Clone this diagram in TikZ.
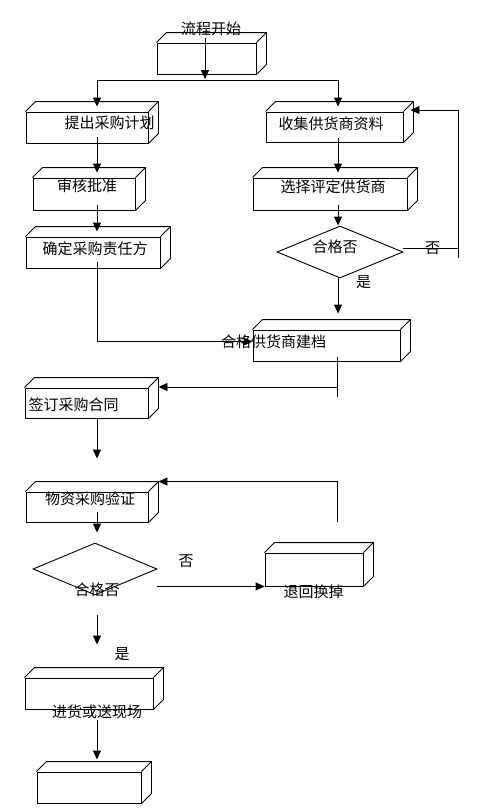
\documentclass[tikz,border=0pt]{standalone}
\usepackage{fontspec}
\setmainfont{Noto Sans CJK SC}
\usetikzlibrary{arrows.meta,calc,shapes.geometric}

\tikzset{
    box/.style={draw, line width=0.9pt, inner sep=0pt},
    decide/.style={draw, diamond, line width=0.9pt, inner sep=0pt},
    txt/.style={font=\fontsize{15}{18}\selectfont, inner sep=0pt},
    arr/.style={-{Triangle[width=8pt,length=9pt]}, line width=0.9pt}
}
\newcommand{\cuboid}[1]{
    \draw[line width=0.9pt] (#1.north west) -- ++(10,-10) -| ($(#1.south east)+(10,-10)$) -- (#1.south east);
    \draw[line width=0.9pt] (#1.north east) -- ++(10,-10);
    \coordinate (#1-t) at ($(#1.north)+(5,-5)$);
    \coordinate (#1-b) at ($(#1.north east)+(10,-10)$);
}

\begin{document}
\begin{tikzpicture}[x=1pt, y=-1pt]
            \useasboundingbox (0,0) rectangle (486,811);
            \node[box, minimum width=99pt, minimum height=31pt] (start) at (206.5,58.5) {};
            \node[box, minimum width=122pt, minimum height=31pt] (plan) at (87,127.5) {};
            \node[box, minimum width=137pt, minimum height=30pt] (collect) at (334.5,127) {};
            \node[box, minimum width=102pt, minimum height=32pt] (approve) at (84,194) {};
            \node[box, minimum width=154pt, minimum height=32pt] (select) at (330,194) {};
            \node[box, minimum width=134pt, minimum height=31pt] (resp) at (93,252.5) {};
            \node[decide, minimum width=126pt, minimum height=52pt] (check1) at (340,252) {};
            \node[box, minimum width=147pt, minimum height=31pt] (archive) at (326.5,345.5) {};
            \node[box, minimum width=123pt, minimum height=30pt] (contract) at (86.5,403) {};
            \node[box, minimum width=122pt, minimum height=30pt] (verify) at (87,507) {};
            \node[decide, minimum width=124pt, minimum height=52pt] (check2) at (95,569) {};
            \node[box, minimum width=98pt, minimum height=33pt] (back) at (314,569.5) {};
            \node[box, minimum width=128pt, minimum height=31pt] (deliver) at (89,693.5) {};
            \node[box, minimum width=104pt, minimum height=31pt] (finish) at (89,787.5) {};
            \foreach \b in {start,plan,collect,approve,select,resp,archive,contract,verify,back,deliver,finish} {\cuboid{\b}}

            \node[txt] (start-l) at (211,29) {流程开始};
            \node[txt] (plan-l) at (109.5,123) {提出采购计划};
            \node[txt] (approve-l) at (87,186) {审核批准};
            \node[txt] (resp-l) at (95,248.5) {确定采购责任方};
            \node[txt] (collect-l) at (331,123.5) {收集供货商资料};
            \node[txt] (select-l) at (333,187) {选择评定供货商};
            \node[txt] (check1-l) at (335,246.5) {合格否};
            \node[txt] (no1) at (432.5,248) {否};
            \node[txt] (yes1) at (363.5,282) {是};
            \node[txt] (archive-l) at (273.5,341.5) {合格供货商建档};
            \node[txt] (contract-l) at (73.5,405) {签订采购合同};
            \node[txt] (verify-l) at (90,498.5) {物资采购验证};
            \node[txt] (check2-l) at (97,590) {合格否};
            \node[txt] (no2) at (186,561) {否};
            \node[txt] (back-l) at (313.5,591.5) {退回换掉};
            \node[txt] (yes2) at (122,654) {是};
            \node[txt] (deliver-l) at (97,711.5) {进货或送现场};

            \coordinate (js) at (205,80);
            \coordinate (jl) at (97,80);
            \coordinate (jr) at (338,80);
            \coordinate (fb1) at (458,258);
            \coordinate (k2) at (337,397);
            \coordinate (k3) at (337,387);
            \coordinate (k4) at (337,522);
            \draw[arr, shorten <=-5pt, shorten >=1pt] (start.north -| js) -- (js);
            \draw[line width=0.9pt] (jl) -- (jr);
            \draw[arr] (jl) -- (jl |- plan-t);
            \draw[arr] (jr) -- (jr |- collect-t);
            \draw[arr, shorten <=-6pt] (plan.south -| jl) -- (jl |- approve-t);
            \draw[arr, shorten <=-5pt] (approve.south -| jl) -- (jl |- resp-t);
            \draw[arr, shorten <=-6pt] (resp.south -| jl) |- ([yshift=4pt]archive.west);
            \draw[arr, shorten <=-4pt] (collect.south -| jr) -- (jr |- select-t);
            \draw[arr, shorten <=-5pt] (select.south -| jr) -- (jr |- check1.north);
            \draw[line width=0.9pt] ([yshift=4pt]check1.east) -| (fb1);
            \draw[arr] (fb1) |- ([xshift=7pt,yshift=17pt]collect.east);
            \draw[arr, shorten >=16pt] (check1.south -| jr) -- (jr |- archive.north);
            \draw[line width=0.9pt, shorten <=-4pt] (archive.south -| k2) -- (k2);
            \draw[arr] (k3) -- (k3 -| contract-b);
            \draw[arr, shorten >=33pt] (contract.south -| jl) -- (jl |- verify.north);
            \draw[arr] (k4) |- (verify-b);
            \draw[arr, shorten <=-10pt, shorten >=10pt] (verify.south -| jl) -- (jl |- check2.north);
            \draw[arr] (check2.east |- back.south west) -- (back.south west);
            \draw[arr, shorten <=20pt, shorten >=33pt] (check2.south -| jl) -- (jl |- deliver.north);
            \draw[arr, shorten <=11pt, shorten >=12pt] (deliver.south -| jl) -- (jl |- finish.north);
\end{tikzpicture}
\end{document}
